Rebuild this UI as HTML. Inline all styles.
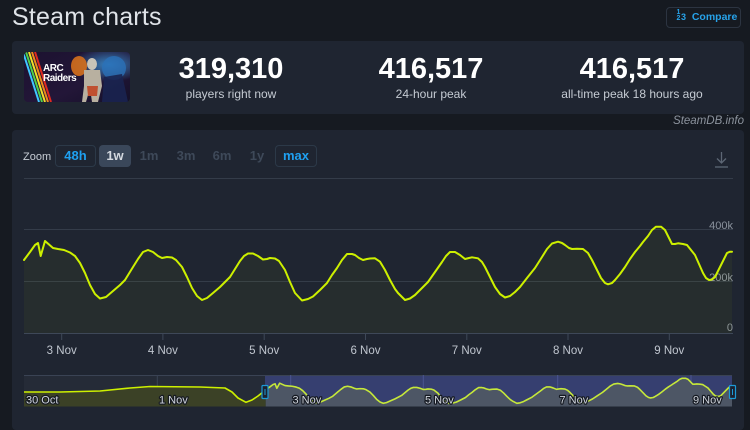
<!DOCTYPE html>
<html><head><meta charset="utf-8">
<style>
*{margin:0;padding:0;box-sizing:border-box}
html,body{width:750px;height:414px;overflow:hidden;background:#161a21;font-family:"Liberation Sans",Arial,sans-serif}
.abs{position:absolute}
.title{left:12px;top:2px;font-size:25px;color:#dfe3e8;line-height:30px;letter-spacing:0.2px}
.cmp{left:666px;top:7px;width:75px;height:21px;border:1px solid #2c3441;border-radius:4px;color:#27a3ea;font-weight:bold;font-size:10.5px;line-height:19px;padding-left:9px}
.stats{left:12px;top:41px;width:732px;height:73px;background:#1f2531;border-radius:4px}
.num{font-weight:bold;font-size:29px;color:#ffffff;text-align:center;width:200px;line-height:30px}
.lab{font-size:12px;color:#c5cbd3;text-align:center;width:220px;line-height:14px}
.sdb{right:6px;top:115px;font-size:11.5px;font-style:italic;color:#8c939d}
.panel{left:12px;top:130px;width:732px;height:300px;background:#1f2531;border-radius:4px}
.zl{left:23px;top:151px;font-size:11px;color:#c6ccd4}
.btn{top:145px;height:22px;border-radius:4px;font-weight:bold;font-size:13px;line-height:22px;text-align:center}
</style></head><body>
<div class="abs title">Steam charts</div>
<div class="abs cmp"><span style="font-size:7px;display:inline-block;line-height:6px;vertical-align:middle;text-align:center;width:5px;margin-top:-3px">1<br>2</span><span style="font-size:9px">3</span>&nbsp; Compare</div>

<div class="abs stats"></div>
<svg class="abs" style="left:24px;top:52px" width="106" height="50" viewBox="0 0 106 50">
<defs>
<linearGradient id="bg" x1="0" y1="0" x2="1" y2="1"><stop offset="0" stop-color="#1c1230"/><stop offset="0.6" stop-color="#231638"/><stop offset="1" stop-color="#141028"/></linearGradient>
<radialGradient id="gl" cx="0.8" cy="0.25" r="0.35"><stop offset="0" stop-color="#3a8fd0" stop-opacity="0.9"/><stop offset="1" stop-color="#3a8fd0" stop-opacity="0"/></radialGradient>
<clipPath id="rc"><rect width="106" height="50" rx="4"/></clipPath>
</defs>
<g clip-path="url(#rc)">
<rect width="106" height="50" fill="url(#bg)"/>
<rect width="106" height="50" fill="url(#gl)"/>
<line x1="-1" y1="0" x2="15" y2="50" stroke="#3fc8ff" stroke-width="2"/>
<line x1="2" y1="0" x2="18" y2="50" stroke="#4fd24a" stroke-width="2"/>
<line x1="5" y1="0" x2="21" y2="50" stroke="#f0e02a" stroke-width="2"/>
<line x1="8" y1="0" x2="24" y2="50" stroke="#f08a1a" stroke-width="2"/>
<line x1="11" y1="0" x2="27" y2="50" stroke="#e02a20" stroke-width="2"/>
<ellipse cx="55" cy="14" rx="8" ry="10" fill="#e0741a" opacity="0.85"/>
<ellipse cx="90" cy="16" rx="12" ry="12" fill="#2a70b8" opacity="0.8"/>
<path d="M80 25 L98 22 L104 50 L78 50Z" fill="#1a2450" opacity="0.9"/>
<ellipse cx="68" cy="12" rx="5" ry="6" fill="#c8c4b8"/>
<path d="M60 18 L76 18 L78 34 L74 50 L68 50 L66 36 L62 50 L58 50 L60 34Z" fill="#b8b0a0"/>
<path d="M63 34 L74 34 L73 44 L64 44Z" fill="#c05030"/>
<text x="19" y="19" font-family="Liberation Sans,sans-serif" font-weight="bold" font-size="10" fill="#fff" letter-spacing="-0.5">ARC</text>
<text x="19" y="29" font-family="Liberation Sans,sans-serif" font-weight="bold" font-size="10" fill="#fff" letter-spacing="-0.5">Raiders</text>
</g>
</svg>
<div class="abs num" style="left:131px;top:54px">319,310</div>
<div class="abs lab" style="left:121px;top:87px">players right now</div>
<div class="abs num" style="left:331px;top:54px">416,517</div>
<div class="abs lab" style="left:321px;top:87px">24-hour peak</div>
<div class="abs num" style="left:532px;top:54px">416,517</div>
<div class="abs lab" style="left:522px;top:87px">all-time peak 18 hours ago</div>
<div class="abs sdb">SteamDB.info</div>

<div class="abs panel"></div>
<div class="abs zl">Zoom</div>
<div class="abs btn" style="left:55px;width:41px;border:1px solid #2c3948;color:#1fa0f0;line-height:20px">48h</div>
<div class="abs btn" style="left:99px;width:32px;background:#3a475a;color:#d4d9e0">1w</div>
<div class="abs btn" style="left:139px;width:20px;color:#3e4959">1m</div>
<div class="abs btn" style="left:176px;width:20px;color:#3e4959">3m</div>
<div class="abs btn" style="left:212px;width:20px;color:#3e4959">6m</div>
<div class="abs btn" style="left:247px;width:20px;color:#3e4959">1y</div>
<div class="abs btn" style="left:275px;width:42px;border:1px solid #2c3948;color:#1fa0f0;line-height:20px">max</div>

<svg class="abs" style="left:0;top:0" width="750" height="414" viewBox="0 0 750 414">
<defs>
<clipPath id="nav"><rect x="24" y="375" width="708" height="31.5"/></clipPath>
</defs>
<!-- download icon -->
<g stroke="#5d6775" stroke-width="1.3" fill="none">
<line x1="721.5" y1="152" x2="721.5" y2="163"/>
<polyline points="717,158.5 721.5,163 726,158.5"/>
<line x1="715" y1="167" x2="728" y2="167"/>
</g>
<!-- grid -->
<g stroke="#343c49" stroke-width="1">
<line x1="24" y1="178.5" x2="733" y2="178.5"/>
<line x1="24" y1="229.5" x2="733" y2="229.5"/>
<line x1="24" y1="281.5" x2="733" y2="281.5"/>
</g>
<line x1="24" y1="333.5" x2="733" y2="333.5" stroke="#3e4858" stroke-width="1"/>
<g stroke="#3e4858" stroke-width="1">
<line x1="61.7" y1="333" x2="61.7" y2="340"/>
<line x1="162.9" y1="333" x2="162.9" y2="340"/>
<line x1="264.2" y1="333" x2="264.2" y2="340"/>
<line x1="365.5" y1="333" x2="365.5" y2="340"/>
<line x1="466.8" y1="333" x2="466.8" y2="340"/>
<line x1="568" y1="333" x2="568" y2="340"/>
<line x1="669.3" y1="333" x2="669.3" y2="340"/>
</g>
<g font-family="Liberation Sans,sans-serif" font-size="11" fill="#8b939e" text-anchor="end">
<text x="733" y="229">400k</text>
<text x="733" y="281">200k</text>
<text x="733" y="331">0</text>
</g>
<g font-family="Liberation Sans,sans-serif" font-size="11.5" fill="#c0c6cf" text-anchor="middle">
<text x="61.7" y="354">3 Nov</text>
<text x="162.9" y="354">4 Nov</text>
<text x="264.2" y="354">5 Nov</text>
<text x="365.5" y="354">6 Nov</text>
<text x="466.8" y="354">7 Nov</text>
<text x="568" y="354">8 Nov</text>
<text x="669.3" y="354">9 Nov</text>
</g>
<!-- series -->
<polygon fill="#cdf000" fill-opacity="0.045" points="24,260 30,252 35,245 38,243 40.7,256 45,241 53,248 58,249 64,250 70,252.5 75,256 80,263 85,273 90,285 95,294 100,298.5 106,297 113,291 120,285 125,280 133,267 138,259 143,252 148,250 153,252 158,256 162,258 167,257 172,257.5 176,260 182,267 187,277 192,288 197,296 202,300 207,298 213,293 220,287 230,277 235,269 240,261 244,256 248,253.5 253,253.5 258,256 263,259.5 267,259 270,258 275,258.5 279,261 285,270 290,282 295,293 302,300.5 308,299 313,296.5 320,290 327,283 332,275 337,268 342,260 347,254 352,254 355,255 359,258 363,260 367,259 370,258.5 375,258.3 380,261.7 385,270 390,280 395,289 398,293 405,300 410,298.5 415,295 420,290 428,282 435,272 442,262 446,256 450,252 455,252 460,255 465,259 469,258 472,257.3 478,258.3 482,262 485,267 490,277 495,287 500,294 505,297.5 510,296 515,292 520,287 527,278 535,268 542,257 547,249 552,243.5 558,241.7 562,243 565,245 569,248 572,249 577,248.8 583,249 588,253 592,260 597,270 601,278 605,283 608,284.3 612,283 615,280 620,274 625,267 630,259 635,252 640,246 643,242 648,236 652,230 656,226.7 661,226.7 665,230 668,236 672,244 675,244 678,243.3 683,244 687,245 691,250 695,255 699,264 703,273 706,278 709,280 712,279.5 715,277 719,269 723,261 727,253 730,251.7 732,251.7 732,333 24,333"/>
<polyline fill="none" stroke="#cdf000" stroke-width="2" stroke-linejoin="round" stroke-linecap="round" points="24,260 30,252 35,245 38,243 40.7,256 45,241 53,248 58,249 64,250 70,252.5 75,256 80,263 85,273 90,285 95,294 100,298.5 106,297 113,291 120,285 125,280 133,267 138,259 143,252 148,250 153,252 158,256 162,258 167,257 172,257.5 176,260 182,267 187,277 192,288 197,296 202,300 207,298 213,293 220,287 230,277 235,269 240,261 244,256 248,253.5 253,253.5 258,256 263,259.5 267,259 270,258 275,258.5 279,261 285,270 290,282 295,293 302,300.5 308,299 313,296.5 320,290 327,283 332,275 337,268 342,260 347,254 352,254 355,255 359,258 363,260 367,259 370,258.5 375,258.3 380,261.7 385,270 390,280 395,289 398,293 405,300 410,298.5 415,295 420,290 428,282 435,272 442,262 446,256 450,252 455,252 460,255 465,259 469,258 472,257.3 478,258.3 482,262 485,267 490,277 495,287 500,294 505,297.5 510,296 515,292 520,287 527,278 535,268 542,257 547,249 552,243.5 558,241.7 562,243 565,245 569,248 572,249 577,248.8 583,249 588,253 592,260 597,270 601,278 605,283 608,284.3 612,283 615,280 620,274 625,267 630,259 635,252 640,246 643,242 648,236 652,230 656,226.7 661,226.7 665,230 668,236 672,244 675,244 678,243.3 683,244 687,245 691,250 695,255 699,264 703,273 706,278 709,280 712,279.5 715,277 719,269 723,261 727,253 730,251.7 732,251.7"/>

<!-- navigator -->
<rect x="24" y="375" width="708" height="31.5" fill="#252b37"/>
<rect x="265" y="375" width="467" height="31.5" fill="#363f70"/>
<line x1="24" y1="375.5" x2="732" y2="375.5" stroke="#3a4354"/>
<g stroke="#3a4354" stroke-width="1">
<line x1="157.3" y1="375" x2="157.3" y2="406"/>
</g>
<g stroke="#4a5590" stroke-width="1">
<line x1="290.7" y1="375" x2="290.7" y2="406"/>
<line x1="423.3" y1="375" x2="423.3" y2="406"/>
<line x1="557.7" y1="375" x2="557.7" y2="406"/>
<line x1="691" y1="375" x2="691" y2="406"/>
</g>
<g clip-path="url(#nav)">
<polygon fill="#3b4126" points="24,392 60,392 100,391 130,388 150,386.5 200,387 225,388 232,392 238,398 246,402.3 252,400 258,396 265.8,389.7 265.8,407 24,407"/>
<polyline fill="none" stroke="#cdf000" stroke-width="1.6" stroke-linejoin="round" points="24,392 60,392 100,391 130,388 150,386.5 200,387 225,388 232,392 238,398 246,402.3 252,400 258,396 265.8,389.7"/>
<g transform="matrix(0.6588,0,0,0.341,250.05,300.99)">
<polygon fill="#4d5665" points="24,260 30,252 35,245 38,243 40.7,256 45,241 53,248 58,249 64,250 70,252.5 75,256 80,263 85,273 90,285 95,294 100,298.5 106,297 113,291 120,285 125,280 133,267 138,259 143,252 148,250 153,252 158,256 162,258 167,257 172,257.5 176,260 182,267 187,277 192,288 197,296 202,300 207,298 213,293 220,287 230,277 235,269 240,261 244,256 248,253.5 253,253.5 258,256 263,259.5 267,259 270,258 275,258.5 279,261 285,270 290,282 295,293 302,300.5 308,299 313,296.5 320,290 327,283 332,275 337,268 342,260 347,254 352,254 355,255 359,258 363,260 367,259 370,258.5 375,258.3 380,261.7 385,270 390,280 395,289 398,293 405,300 410,298.5 415,295 420,290 428,282 435,272 442,262 446,256 450,252 455,252 460,255 465,259 469,258 472,257.3 478,258.3 482,262 485,267 490,277 495,287 500,294 505,297.5 510,296 515,292 520,287 527,278 535,268 542,257 547,249 552,243.5 558,241.7 562,243 565,245 569,248 572,249 577,248.8 583,249 588,253 592,260 597,270 601,278 605,283 608,284.3 612,283 615,280 620,274 625,267 630,259 635,252 640,246 643,242 648,236 652,230 656,226.7 661,226.7 665,230 668,236 672,244 675,244 678,243.3 683,244 687,245 691,250 695,255 699,264 703,273 706,278 709,280 712,279.5 715,277 719,269 723,261 727,253 730,251.7 732,251.7 732,333 24,333"/>
<polyline fill="none" stroke="#c6e83a" stroke-width="1.6" vector-effect="non-scaling-stroke" stroke-linejoin="round" points="24,260 30,252 35,245 38,243 40.7,256 45,241 53,248 58,249 64,250 70,252.5 75,256 80,263 85,273 90,285 95,294 100,298.5 106,297 113,291 120,285 125,280 133,267 138,259 143,252 148,250 153,252 158,256 162,258 167,257 172,257.5 176,260 182,267 187,277 192,288 197,296 202,300 207,298 213,293 220,287 230,277 235,269 240,261 244,256 248,253.5 253,253.5 258,256 263,259.5 267,259 270,258 275,258.5 279,261 285,270 290,282 295,293 302,300.5 308,299 313,296.5 320,290 327,283 332,275 337,268 342,260 347,254 352,254 355,255 359,258 363,260 367,259 370,258.5 375,258.3 380,261.7 385,270 390,280 395,289 398,293 405,300 410,298.5 415,295 420,290 428,282 435,272 442,262 446,256 450,252 455,252 460,255 465,259 469,258 472,257.3 478,258.3 482,262 485,267 490,277 495,287 500,294 505,297.5 510,296 515,292 520,287 527,278 535,268 542,257 547,249 552,243.5 558,241.7 562,243 565,245 569,248 572,249 577,248.8 583,249 588,253 592,260 597,270 601,278 605,283 608,284.3 612,283 615,280 620,274 625,267 630,259 635,252 640,246 643,242 648,236 652,230 656,226.7 661,226.7 665,230 668,236 672,244 675,244 678,243.3 683,244 687,245 691,250 695,255 699,264 703,273 706,278 709,280 712,279.5 715,277 719,269 723,261 727,253 730,251.7 732,251.7"/>
</g>
</g>
<g font-family="Liberation Sans,sans-serif" font-size="11" fill="#d0d5dd" stroke="#161a22" stroke-width="2.4" paint-order="stroke" stroke-linejoin="round">
<text x="26" y="403.5">30 Oct</text>
<text x="159" y="403.5">1 Nov</text>
<text x="292.5" y="403.5">3 Nov</text>
<text x="425" y="403.5">5 Nov</text>
<text x="559.5" y="403.5">7 Nov</text>
<text x="693" y="403.5">9 Nov</text>
</g>
<rect x="262" y="385.5" width="6" height="13" rx="1" fill="#1c2230" stroke="#1d9ad6" stroke-width="1.2"/>
<line x1="265" y1="389" x2="265" y2="395" stroke="#1d9ad6" stroke-width="1"/>
<rect x="729.5" y="385.5" width="6" height="13" rx="1" fill="#1c2230" stroke="#1d9ad6" stroke-width="1.2"/>
<line x1="732.5" y1="389" x2="732.5" y2="395" stroke="#1d9ad6" stroke-width="1"/>
</svg>
</body></html>
